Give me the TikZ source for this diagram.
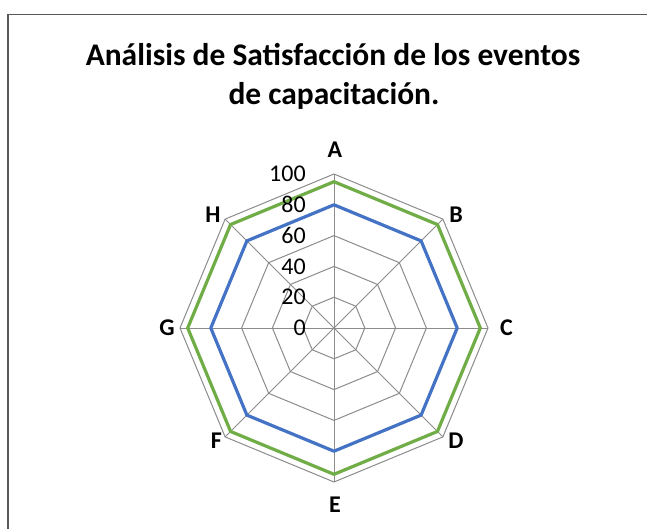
\documentclass[tikz,border=0pt]{standalone}
\usepackage{fontspec}
\setmainfont{Carlito}
\definecolor{gridgray}{HTML}{8C8C8C}
\definecolor{serblue}{HTML}{4472C4}
\definecolor{sergreen}{HTML}{70AD47}
\definecolor{framegray}{HTML}{595959}
\begin{document}
\begin{tikzpicture}[x=0.75pt,y=-0.75pt,
  gridline/.style={draw=gridgray, line width=0.75pt},
  series/.style={line width=2.4pt, line join=round},
  axlabel/.style={font=\fontsize{18}{21}\selectfont, inner sep=0pt, anchor=east},
  catlabel/.style={font=\bfseries\fontsize{18}{21}\selectfont, inner sep=0pt},
  titlefont/.style={font=\bfseries\fontsize{23.6}{28}\selectfont, inner sep=0pt, anchor=base}]
\useasboundingbox (0,0) rectangle (647,529);
\fill[white] (0,0) rectangle (647,529);
\begin{scope}
\clip (0,0) rectangle (647,529);
\draw[framegray, line width=0.9pt] (8,540) -- (8,14.5) -- (660,14.5);
\end{scope}
% title
\node[titlefont] (t1) at (333,65.5) {Análisis de Satisfacción de los eventos};
\node[titlefont] (t2) at (334,104) {de capacitación.};
% centre
\coordinate (O) at (334,328);
% rings
\foreach \v in {20,40,60,80,100}{
  \draw[gridline] ({334+1.54*\v*sin(0)},{328-1.54*\v*cos(0)})
    \foreach \i in {1,...,7}{ -- ({334+1.54*\v*sin(45*\i)},{328-1.54*\v*cos(45*\i)}) } -- cycle;
}
% spokes
\foreach \i in {0,...,7}{
  \coordinate (s\i) at ({334+154*sin(45*\i)},{328-154*cos(45*\i)});
  \draw[gridline] (O) -- (s\i);
}
% series
\draw[series, serblue] ({334+1.54*80*sin(0)},{328-1.54*80*cos(0)})
  \foreach \i in {1,...,7}{ -- ({334+1.54*80*sin(45*\i)},{328-1.54*80*cos(45*\i)}) } -- cycle;
\draw[series, sergreen] ({334+1.54*95*sin(0)},{328-1.54*95*cos(0)})
  \foreach \i in {1,...,7}{ -- ({334+1.54*95*sin(45*\i)},{328-1.54*95*cos(45*\i)}) } -- cycle;
% axis labels
\foreach \v in {0,20,40,60,80,100}{
  \node[axlabel] (n\v) at (306,{328-1.54*\v}) {\v};
}
% category labels
\node[catlabel] (A) at (335,150) {A};
\node[catlabel] (B) at (456,215) {B};
\node[catlabel] (C) at (506.5,328) {C};
\node[catlabel] (D) at (456,441) {D};
\node[catlabel] (E) at (335,505) {E};
\node[catlabel] (F) at (216.5,441) {F};
\node[catlabel] (G) at (167,328) {G};
\node[catlabel] (H) at (213,215) {H};
\end{tikzpicture}
\end{document}
